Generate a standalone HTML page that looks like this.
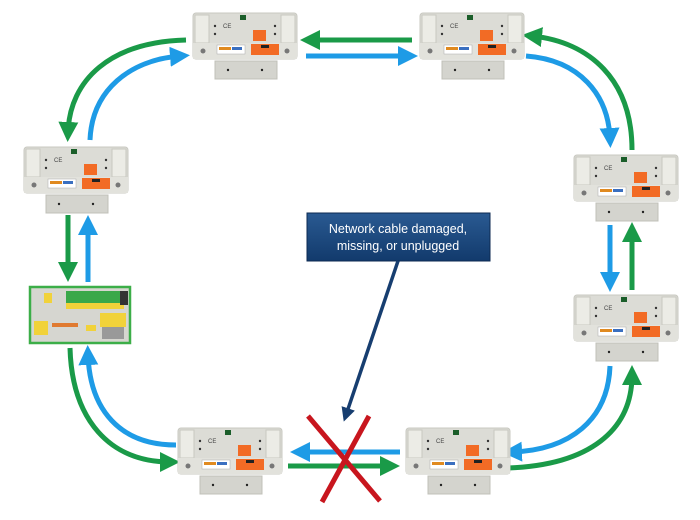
<!DOCTYPE html>
<html><head><meta charset="utf-8"><style>
html,body{margin:0;padding:0;background:#fff;width:700px;height:520px;overflow:hidden}
svg{display:block}
</style></head><body>
<svg width="700" height="520" viewBox="0 0 700 520" xmlns="http://www.w3.org/2000/svg">
<defs>
<linearGradient id="bx" x1="0" y1="0" x2="0" y2="1"><stop offset="0" stop-color="#2a5a92"/><stop offset="1" stop-color="#123a6c"/></linearGradient>
<g id="dev">
  <rect x="0" y="0" width="104" height="46" rx="3" fill="#dcdcd6" stroke="#c8c8c0"/>
  <rect x="2" y="2" width="14" height="28" fill="#ecece6" stroke="#c8c8c0"/>
  <rect x="88" y="2" width="14" height="28" fill="#ecece6" stroke="#c8c8c0"/>
  <rect x="0" y="30" width="104" height="16" fill="#e2e2dc"/>
  <rect x="22" y="48" width="62" height="18" fill="#d4d4ce" stroke="#c0c0b8"/>
  <rect x="47" y="2" width="6" height="5" fill="#1b5e2a"/>
  <rect x="60" y="17" width="13" height="11" fill="#f26b25"/>
  <rect x="58" y="31" width="28" height="11" fill="#f26b25"/>
  <rect x="68" y="32" width="8" height="3" fill="#222"/>
  <rect x="24" y="32" width="28" height="9" fill="#fff" stroke="#aaa" stroke-width=".5"/>
  <rect x="26" y="34" width="12" height="3" fill="#e08a20"/><rect x="39" y="34" width="10" height="3" fill="#3a6fc0"/>
  <circle cx="22" cy="13" r="1.2" fill="#333"/><circle cx="22" cy="21" r="1.2" fill="#333"/>
  <circle cx="82" cy="13" r="1.2" fill="#333"/><circle cx="82" cy="21" r="1.2" fill="#333"/>
  <text x="30" y="15" font-family="Liberation Sans" font-size="6" fill="#444">CE</text>
  <circle cx="10" cy="38" r="2.5" fill="#777"/><circle cx="94" cy="38" r="2.5" fill="#777"/>
  <circle cx="35" cy="57" r="1.2" fill="#222"/><circle cx="69" cy="57" r="1.2" fill="#222"/>
</g>
<marker id="ag" viewBox="0 0 10 10" refX="5" refY="5" markerWidth="4" markerHeight="4" orient="auto"><path d="M0,0L10,5L0,10z" fill="#1a9a48"/></marker>
<marker id="ab" viewBox="0 0 10 10" refX="5" refY="5" markerWidth="4" markerHeight="4" orient="auto"><path d="M0,0L10,5L0,10z" fill="#1e9be6"/></marker>
<marker id="an" viewBox="0 0 10 10" refX="5" refY="5" markerWidth="4" markerHeight="4" orient="auto"><path d="M0,0L10,5L0,10z" fill="#173e70"/></marker>
</defs>

<g fill="none" stroke-width="5">
<!-- top -->
<path d="M412,40 L310,40" stroke="#1a9a48" marker-end="url(#ag)"/>
<path d="M306,56 L408,56" stroke="#1e9be6" marker-end="url(#ab)"/>
<!-- top-left -->
<path d="M186,40 C110,42 70,80 68,132" stroke="#1a9a48" marker-end="url(#ag)"/>
<path d="M90,140 C92,90 130,60 180,56" stroke="#1e9be6" marker-end="url(#ab)"/>
<!-- left -->
<path d="M68,215 L68,272" stroke="#1a9a48" marker-end="url(#ag)"/>
<path d="M88,282 L88,225" stroke="#1e9be6" marker-end="url(#ab)"/>
<!-- bottom-left -->
<path d="M70,348 C72,420 110,462 170,462" stroke="#1a9a48" marker-end="url(#ag)"/>
<path d="M176,445 C120,445 90,410 88,355" stroke="#1e9be6" marker-end="url(#ab)"/>
<!-- bottom -->
<path d="M400,452 L300,452" stroke="#1e9be6" marker-end="url(#ab)"/>
<path d="M288,466 L390,466" stroke="#1a9a48" marker-end="url(#ag)"/>
<!-- bottom-right -->
<path d="M610,366 C608,420 570,450 512,452" stroke="#1e9be6" marker-end="url(#ab)"/>
<path d="M508,468 C590,465 632,430 632,375" stroke="#1a9a48" marker-end="url(#ag)"/>
<!-- right -->
<path d="M610,225 L610,282" stroke="#1e9be6" marker-end="url(#ab)"/>
<path d="M632,290 L632,232" stroke="#1a9a48" marker-end="url(#ag)"/>
<!-- top-right -->
<path d="M526,56 C580,60 608,95 610,138" stroke="#1e9be6" marker-end="url(#ab)"/>
<path d="M632,150 C632,80 590,42 532,36" stroke="#1a9a48" marker-end="url(#ag)"/>
</g>

<use href="#dev" x="193" y="13"/>
<use href="#dev" x="420" y="13"/>
<use href="#dev" x="24" y="147"/>
<use href="#dev" x="574" y="155"/>
<use href="#dev" x="574" y="295"/>
<use href="#dev" x="178" y="428"/>
<use href="#dev" x="406" y="428"/>

<!-- PLC -->
<g transform="translate(30,287)">
  <rect x="0" y="0" width="100" height="56" fill="#d6d6d0" stroke="#3cae48" stroke-width="2.5"/>
  <rect x="36" y="4" width="58" height="12" fill="#3aa84a"/>
  <rect x="36" y="16" width="58" height="6" fill="#f1d23a"/>
  <rect x="90" y="4" width="8" height="14" fill="#333"/>
  <rect x="14" y="6" width="8" height="10" fill="#f1d23a"/>
  <rect x="4" y="34" width="14" height="14" fill="#f1d23a"/>
  <rect x="70" y="26" width="26" height="14" fill="#f1d23a"/>
  <rect x="72" y="40" width="22" height="12" fill="#999"/>
  <rect x="56" y="38" width="10" height="6" fill="#f1d23a"/>
  <rect x="22" y="36" width="26" height="4" fill="#e07a30"/>
</g>

<!-- callout -->
<rect x="307" y="213" width="183" height="48" fill="url(#bx)" stroke="#0c2a52"/>
<text x="398" y="233" text-anchor="middle" font-family="Liberation Sans" font-size="12.5" fill="#fff">Network cable damaged,</text>
<text x="398" y="250" text-anchor="middle" font-family="Liberation Sans" font-size="12.5" fill="#fff">missing, or unplugged</text>
<path d="M398,261 L346,415" stroke="#173e70" stroke-width="3.5" fill="none" marker-end="url(#an)"/>

<!-- red X -->
<path d="M308,416 L380,501 M369,416 L322,502" stroke="#c8161e" stroke-width="5"/>
</svg>
</body></html>
